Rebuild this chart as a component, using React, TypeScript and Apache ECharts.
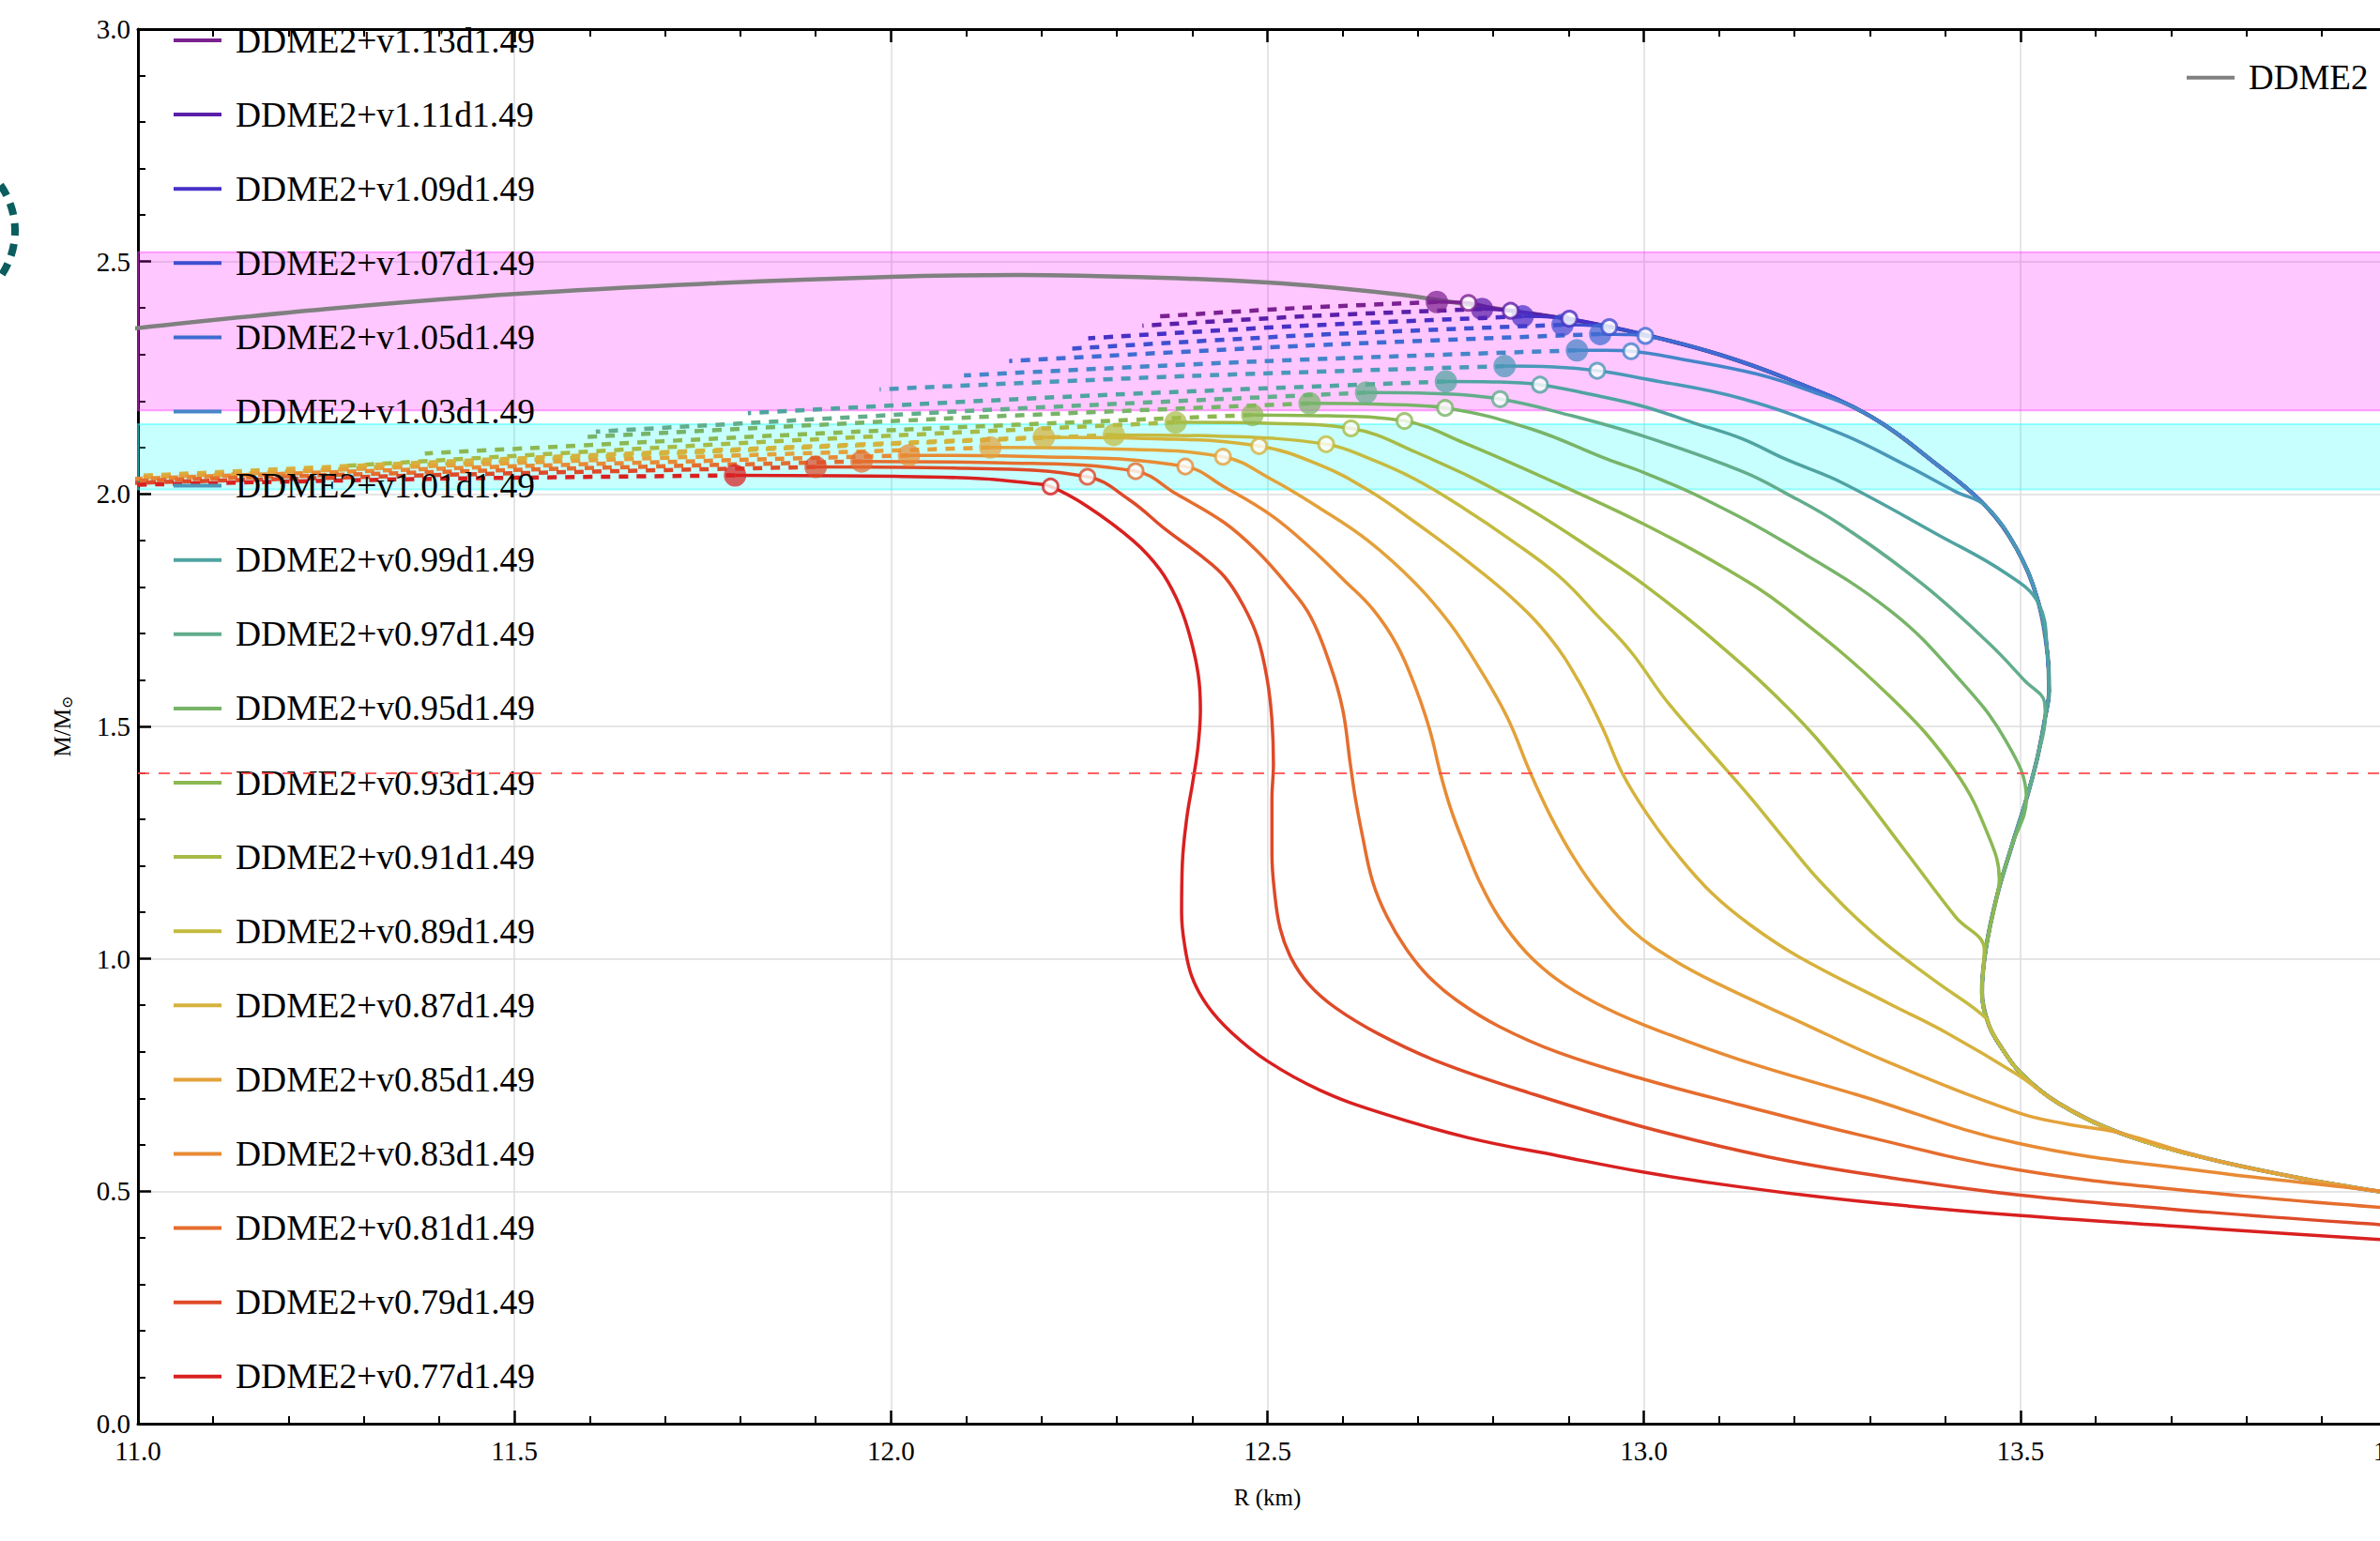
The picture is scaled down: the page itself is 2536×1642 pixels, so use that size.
import React, { useEffect, useRef } from 'react';
import * as echarts from 'echarts';

type P = [number, number];

const FONT = '"Liberation Serif", "DejaVu Serif", serif';

const NAMES: string[] = [
  'DDME2+v1.13d1.49', 'DDME2+v1.11d1.49', 'DDME2+v1.09d1.49', 'DDME2+v1.07d1.49',
  'DDME2+v1.05d1.49', 'DDME2+v1.03d1.49', 'DDME2+v1.01d1.49', 'DDME2+v0.99d1.49',
  'DDME2+v0.97d1.49', 'DDME2+v0.95d1.49', 'DDME2+v0.93d1.49', 'DDME2+v0.91d1.49',
  'DDME2+v0.89d1.49', 'DDME2+v0.87d1.49', 'DDME2+v0.85d1.49', 'DDME2+v0.83d1.49',
  'DDME2+v0.81d1.49', 'DDME2+v0.79d1.49', 'DDME2+v0.77d1.49',
];

const COLORS: string[] = [
  '#7b2190', '#5a1fa8', '#4630c6', '#3e4fd0', '#3f6cd2', '#4585c8', '#4a98b8',
  '#4fa3a0', '#62ad8c', '#77b468', '#8cb852', '#a7bb45', '#c4bb3f', '#d6b23c',
  '#e3a23a', '#e88a34', '#e56d2e', '#de4a28', '#d92020',
];

// DDME2 (grey) left part, then shared envelope
const DDME2_LEFT: P[] = [
  [10.9, 2.338], [11.0, 2.357], [11.25, 2.398], [11.5, 2.430], [11.75, 2.452], [12.0, 2.467],
  [12.17, 2.471], [12.36, 2.465], [12.5, 2.455], [12.6, 2.442], [12.68, 2.428], [12.74, 2.414],
];

const ENVELOPE: P[] = [
  [12.80, 2.400], [12.90, 2.376], [13.00, 2.343], [13.10, 2.300], [13.19, 2.248], [13.30, 2.168],
  [13.39, 2.062], [13.454, 1.974], [13.495, 1.882], [13.523, 1.772], [13.536, 1.656], [13.538, 1.575],
  [13.533, 1.520], [13.523, 1.436], [13.508, 1.344], [13.488, 1.240], [13.469, 1.136], [13.454, 1.020],
  [13.449, 0.928], [13.458, 0.858], [13.476, 0.806], [13.500, 0.755], [13.550, 0.690], [13.631, 0.626],
  [13.742, 0.573], [13.869, 0.529], [13.979, 0.499], [14.100, 0.472],
];

// stable branches (own part), starting at the maximum-mass point
const S113: P[] = [[12.725, 2.413], [12.767, 2.411]];
const S111: P[] = [[12.785, 2.398], [12.823, 2.394]];
const S109: P[] = [[12.839, 2.382], [12.870, 2.381], [12.901, 2.377]];
const S107: P[] = [[12.892, 2.364], [12.925, 2.363], [12.954, 2.359]];
const S105: P[] = [[12.942, 2.344], [12.975, 2.343], [13.002, 2.340]];
const S103: P[] = [[12.911, 2.309], [12.950, 2.309], [12.983, 2.307], [13.05, 2.290], [13.15, 2.258], [13.22, 2.222]];
const S101: P[] = [[12.815, 2.275], [12.880, 2.273], [12.938, 2.265], [13.0, 2.248], [13.13, 2.205], [13.261, 2.130], [13.349, 2.061], [13.414, 2.005]];
const S099: P[] = [[12.737, 2.242], [12.800, 2.241], [12.862, 2.235], [12.93, 2.214], [13.0, 2.188], [13.066, 2.153], [13.13, 2.119], [13.188, 2.075], [13.261, 2.026], [13.392, 1.911], [13.48, 1.830], [13.524, 1.765]];
const S097: P[] = [[12.631, 2.218], [12.720, 2.216], [12.809, 2.204], [12.90, 2.170], [13.0, 2.124], [13.13, 2.049], [13.188, 2.002], [13.261, 1.934], [13.37, 1.806], [13.458, 1.679], [13.506, 1.598], [13.532, 1.552]];
const S095: P[] = [[12.556, 2.195], [12.650, 2.193], [12.736, 2.185], [12.85, 2.140], [12.951, 2.075], [13.0, 2.046], [13.079, 1.990], [13.188, 1.895], [13.327, 1.749], [13.414, 1.610], [13.48, 1.471], [13.508, 1.344]];
const S093: P[] = [[12.480, 2.170], [12.580, 2.168], [12.682, 2.157], [12.761, 2.110], [12.888, 2.020], [13.0, 1.935], [13.108, 1.840], [13.188, 1.755], [13.327, 1.564], [13.414, 1.402], [13.458, 1.263], [13.472, 1.171]];
const S091: P[] = [[12.378, 2.154], [12.500, 2.152], [12.611, 2.141], [12.697, 2.090], [12.824, 1.990], [12.951, 1.860], [13.0, 1.805], [13.086, 1.695], [13.188, 1.545], [13.261, 1.413], [13.349, 1.228], [13.414, 1.090], [13.452, 1.020]];
const S089: P[] = [[12.296, 2.127], [12.440, 2.124], [12.578, 2.107], [12.634, 2.077], [12.697, 2.031], [12.761, 1.969], [12.825, 1.899], [12.888, 1.822], [12.939, 1.737], [12.983, 1.660], [13.03, 1.555], [13.086, 1.450], [13.14, 1.350], [13.188, 1.255], [13.235, 1.165], [13.308, 1.050], [13.387, 0.952], [13.456, 0.870]];
const S087: P[] = [[12.203, 2.122], [12.350, 2.119], [12.489, 2.103], [12.570, 2.062], [12.634, 2.008], [12.697, 1.938], [12.761, 1.861], [12.825, 1.776], [12.875, 1.691], [12.913, 1.598], [12.945, 1.497], [12.972, 1.397], [13.004, 1.312], [13.043, 1.227], [13.091, 1.140], [13.142, 1.072], [13.205, 1.005], [13.324, 0.905], [13.403, 0.840], [13.497, 0.750]];
const S085: P[] = [[12.132, 2.100], [12.290, 2.097], [12.441, 2.080], [12.506, 2.031], [12.570, 1.969], [12.634, 1.899], [12.697, 1.807], [12.742, 1.722], [12.780, 1.629], [12.818, 1.521], [12.850, 1.397], [12.877, 1.304], [12.908, 1.215], [12.942, 1.137], [12.985, 1.060], [13.04, 0.997], [13.100, 0.945], [13.205, 0.866], [13.324, 0.778], [13.497, 0.669], [13.56, 0.645], [13.631, 0.626]];
const S083: P[] = [[12.024, 2.083], [12.200, 2.080], [12.391, 2.059], [12.443, 2.015], [12.506, 1.953], [12.557, 1.884], [12.602, 1.814], [12.640, 1.752], [12.672, 1.675], [12.697, 1.582], [12.716, 1.490], [12.730, 1.397], [12.744, 1.320], [12.762, 1.243], [12.782, 1.165], [12.808, 1.088], [12.843, 1.015], [12.885, 0.955], [12.936, 0.905], [13.0, 0.858], [13.125, 0.784], [13.284, 0.707], [13.497, 0.603], [13.75, 0.542], [13.979, 0.500], [14.1, 0.473]];
const S081: P[] = [[11.961, 2.070], [12.150, 2.067], [12.325, 2.049], [12.379, 2.000], [12.443, 1.938], [12.487, 1.876], [12.525, 1.807], [12.557, 1.737], [12.584, 1.629], [12.600, 1.536], [12.610, 1.420], [12.617, 1.343], [12.626, 1.266], [12.640, 1.165], [12.659, 1.090], [12.684, 1.022], [12.714, 0.962], [12.752, 0.910], [12.807, 0.855], [12.887, 0.798], [13.0, 0.741], [13.125, 0.687], [13.284, 0.622], [13.497, 0.546], [13.75, 0.497], [13.979, 0.465], [14.1, 0.451]];
const S079: P[] = [[11.900, 2.058], [12.100, 2.055], [12.261, 2.037], [12.316, 1.988], [12.366, 1.922], [12.411, 1.868], [12.443, 1.822], [12.468, 1.760], [12.487, 1.691], [12.500, 1.598], [12.506, 1.513], [12.508, 1.420], [12.506, 1.343], [12.506, 1.227], [12.509, 1.150], [12.517, 1.065], [12.532, 1.000], [12.555, 0.945], [12.590, 0.895], [12.648, 0.838], [12.728, 0.778], [12.847, 0.712], [13.0, 0.638], [13.165, 0.574], [13.324, 0.530], [13.497, 0.492], [13.75, 0.455], [13.979, 0.428], [14.1, 0.416]];
const S077: P[] = [[11.793, 2.040], [12.004, 2.038], [12.119, 2.033], [12.186, 2.023], [12.212, 2.016], [12.261, 1.973], [12.322, 1.899], [12.357, 1.838], [12.379, 1.776], [12.395, 1.706], [12.408, 1.613], [12.411, 1.536], [12.408, 1.459], [12.401, 1.382], [12.393, 1.304], [12.387, 1.204], [12.386, 1.100], [12.390, 1.030], [12.400, 0.960], [12.420, 0.900], [12.452, 0.842], [12.500, 0.780], [12.569, 0.718], [12.648, 0.670], [12.767, 0.615], [12.887, 0.576], [13.0, 0.541], [13.125, 0.510], [13.284, 0.479], [13.497, 0.448], [13.75, 0.420], [13.979, 0.396], [14.1, 0.386]];

const STABLE: P[][] = [S113, S111, S109, S107, S105, S103, S101, S099, S097, S095, S093, S091, S089, S087, S085, S083, S081, S079, S077];
const JOINS_ENVELOPE: boolean[] = [true, true, true, true, true, true, true, true, true, true, true, true, true, true, true, false, false, false, false];

// unstable branches (dashed), from the maximum-mass point leftwards
const UNSTABLE: P[][] = [
  [[12.725, 2.413], [12.54, 2.400], [12.357, 2.382]],
  [[12.785, 2.398], [12.56, 2.383], [12.334, 2.362]],
  [[12.839, 2.382], [12.55, 2.362], [12.262, 2.335]],
  [[12.892, 2.364], [12.56, 2.342], [12.233, 2.312]],
  [[12.942, 2.344], [12.55, 2.319], [12.157, 2.286]],
  [[12.911, 2.309], [12.50, 2.286], [12.097, 2.255]],
  [[12.815, 2.275], [12.40, 2.254], [11.985, 2.225]],
  [[12.737, 2.242], [12.27, 2.212], [11.81, 2.174]],
  [[12.631, 2.218], [12.12, 2.180], [11.608, 2.134]],
  [[12.556, 2.195], [12.07, 2.162], [11.588, 2.122]],
  [[12.480, 2.170], [11.93, 2.132], [11.381, 2.087]],
  [[12.378, 2.154], [11.82, 2.111], [11.27, 2.060]],
  [[12.296, 2.127], [11.70, 2.087], [11.10, 2.040]],
  [[12.203, 2.122], [11.58, 2.082], [10.95, 2.035]],
  [[12.132, 2.100], [11.54, 2.069], [10.95, 2.032]],
  [[12.024, 2.083], [11.49, 2.059], [10.95, 2.030]],
  [[11.961, 2.070], [11.46, 2.050], [10.95, 2.026]],
  [[11.900, 2.058], [11.43, 2.042], [10.95, 2.022]],
  [[11.793, 2.040], [11.37, 2.032], [10.95, 2.018]],
];

const MAX_POINTS: P[] = [
  [12.725, 2.413], [12.785, 2.398], [12.839, 2.382], [12.892, 2.364], [12.942, 2.344], [12.911, 2.309],
  [12.815, 2.275], [12.737, 2.242], [12.631, 2.218], [12.556, 2.195], [12.480, 2.170], [12.378, 2.154],
  [12.296, 2.127], [12.203, 2.122], [12.132, 2.100], [12.024, 2.083], [11.961, 2.070], [11.900, 2.058],
  [11.793, 2.040],
];

const OPEN_POINTS: P[] = [
  [12.767, 2.411], [12.823, 2.394], [12.901, 2.377], [12.954, 2.359], [13.002, 2.340], [12.983, 2.307],
  [12.938, 2.265], [12.862, 2.235], [12.809, 2.204], [12.736, 2.185], [12.682, 2.157], [12.611, 2.141],
  [12.578, 2.107], [12.489, 2.103], [12.441, 2.080], [12.391, 2.059], [12.325, 2.049], [12.261, 2.037],
  [12.212, 2.016],
];

const MAGENTA_BAND: [number, number] = [2.18, 2.52];
const CYAN_BAND: [number, number] = [2.01, 2.15];
const CANONICAL_MASS = 1.4;

const X_MIN = 11, X_MAX = 14, X_STEP = 0.5;
const Y_MIN = 0, Y_MAX = 3, Y_STEP = 0.5;

function buildOption(): any {
  const axisCommon = {
    type: 'value',
    axisLine: { show: true, onZero: false, lineStyle: { color: '#000', width: 3 } },
    axisTick: { show: true, inside: true, length: 14, lineStyle: { color: '#000', width: 2.5 } },
    minorTick: { show: true, splitNumber: 5, length: 8, lineStyle: { color: '#000', width: 2 } },
  };
  const tickLabel = {
    color: '#000', fontFamily: FONT, fontSize: 29,
    formatter: (v: number) => v.toFixed(1),
  };

  const series: any[] = [];
  series.push({
    name: '_bands', type: 'line', data: [[11, -5]], z: 1, showSymbol: false, silent: true,
    lineStyle: { opacity: 0 },
    markArea: {
      silent: true,
      data: [
        [{ yAxis: MAGENTA_BAND[0], itemStyle: { color: 'rgba(255,0,255,0.22)', borderColor: 'rgba(255,60,255,0.45)', borderWidth: 2 } }, { yAxis: MAGENTA_BAND[1] }],
        [{ yAxis: CYAN_BAND[0], itemStyle: { color: 'rgba(0,255,255,0.22)', borderColor: 'rgba(60,255,255,0.5)', borderWidth: 2 } }, { yAxis: CYAN_BAND[1] }],
      ],
    },
    markLine: {
      silent: true, symbol: 'none', label: { show: false },
      lineStyle: { color: 'rgba(255,70,70,0.85)', type: [12, 10], width: 2 },
      data: [{ yAxis: CANONICAL_MASS }],
    },
  });

  series.push({
    name: 'DDME2', type: 'line', data: DDME2_LEFT.concat(ENVELOPE), color: '#808080',
    showSymbol: false, smooth: 0.35, z: 2,
    lineStyle: { color: '#808080', width: 4.5 },
  });

  STABLE.forEach((own, i) => {
    const last = own[own.length - 1];
    const full = JOINS_ENVELOPE[i] ? own.concat(ENVELOPE.filter((p) => p[1] < last[1] - 0.004)) : own;
    series.push({
      name: NAMES[i], type: 'line', data: full, color: COLORS[i], showSymbol: false, smooth: 0.4, z: 3,
      lineStyle: { color: COLORS[i], width: 3.5 },
      itemStyle: { color: COLORS[i] },
    });
    series.push({
      name: NAMES[i] + ' (unstable)', type: 'line', data: UNSTABLE[i], color: COLORS[i], showSymbol: false, smooth: 0.3, z: 3,
      lineStyle: { color: COLORS[i], width: 4.5, type: [10, 9], cap: 'butt' },
    });
  });

  series.push({
    name: '_max', type: 'scatter', z: 4, symbolSize: 24,
    data: MAX_POINTS.map((p, i) => ({ value: p, itemStyle: { color: COLORS[i], opacity: 0.72 } })),
  });
  series.push({
    name: '_open', type: 'scatter', z: 5, symbolSize: 16,
    data: OPEN_POINTS.map((p, i) => ({ value: p, itemStyle: { color: '#ffffff', borderColor: COLORS[i], borderWidth: 3 } })),
  });

  return {
    animation: false,
    backgroundColor: '#ffffff',
    grid: { left: 147, top: 31, width: 2407, height: 1486, containLabel: false, outerBoundsMode: 'none' },
    xAxis: [
      {
        ...axisCommon, min: X_MIN, max: X_MAX, interval: X_STEP, position: 'bottom',
        axisLabel: { ...tickLabel, margin: 14 },
        splitLine: { show: true, lineStyle: { color: '#dcdcdc', width: 1.5 } },
        name: 'R (km)', nameLocation: 'middle', nameGap: 66,
        nameTextStyle: { color: '#000', fontFamily: FONT, fontSize: 25 },
      },
      {
        ...axisCommon, min: X_MIN, max: X_MAX, interval: X_STEP, position: 'top',
        axisLabel: { show: false }, splitLine: { show: false },
      },
    ],
    yAxis: [
      {
        ...axisCommon, min: Y_MIN, max: Y_MAX, interval: Y_STEP, position: 'left',
        axisLabel: { ...tickLabel, margin: 8 },
        splitLine: { show: true, lineStyle: { color: '#dcdcdc', width: 1.5 } },
        name: '{a|M/M}{b|⊙}', nameLocation: 'middle', nameGap: 68, nameRotate: 90,
        nameTextStyle: {
          color: '#000', fontFamily: FONT, fontSize: 25,
          rich: {
            a: { color: '#000', fontFamily: FONT, fontSize: 25 },
            b: { color: '#000', fontFamily: FONT, fontSize: 16, verticalAlign: 'bottom', padding: [10, 0, 0, 0] },
          },
        },
      },
    ],
    legend: [
      {
        data: NAMES, orient: 'vertical', left: 185, top: 23, padding: 0,
        itemWidth: 51, itemHeight: 4, itemGap: 39.1, icon: 'rect',
        itemStyle: { borderWidth: 0 },
        textStyle: { color: '#000', fontFamily: FONT, fontSize: 37.5, lineHeight: 40, padding: [0, 0, 0, 10] },
      },
      {
        data: ['DDME2'], orient: 'vertical', left: 2330, top: 62.7, padding: 0,
        itemWidth: 51, itemHeight: 4, icon: 'rect',
        itemStyle: { borderWidth: 0 },
        textStyle: { color: '#000', fontFamily: FONT, fontSize: 37, lineHeight: 40, padding: [0, 0, 0, 10] },
      },
    ],
    graphic: [
      {
        type: 'arc', z: 100, silent: true,
        shape: { cx: -68, cy: 246, r: 84, startAngle: -0.62, endAngle: 0.62 },
        style: { stroke: '#0b5d5e', lineWidth: 8, lineDash: [13, 9], fill: null },
      },
    ],
    series,
  };
}

export default function App() {
  const ref = useRef<HTMLDivElement>(null);
  useEffect(() => {
    document.body.style.margin = '0';
    document.body.style.overflow = 'hidden';
    document.documentElement.style.overflow = 'hidden';
    const chart = echarts.init(ref.current as HTMLDivElement, null, { renderer: 'svg' });
    chart.setOption(buildOption());
    return () => chart.dispose();
  }, []);
  return (
    <div
      ref={ref}
      style={{ position: 'fixed', left: 0, top: 0, width: 2536, height: 1642, background: '#ffffff', overflow: 'hidden' }}
    />
  );
}
